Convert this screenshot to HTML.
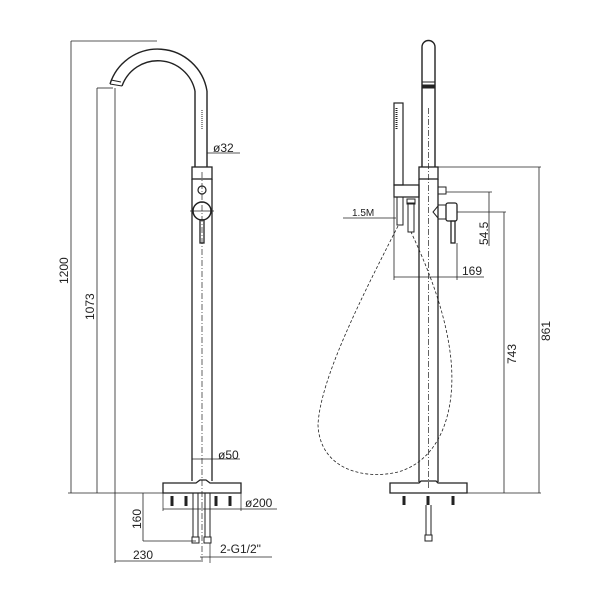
<!DOCTYPE html>
<html><head><meta charset="utf-8"><style>
html,body{margin:0;padding:0;background:#fff}
svg{display:block}
text{font-family:"Liberation Sans",sans-serif;font-size:12px;fill:#222}
</style></head><body>
<svg width="600" height="600" viewBox="0 0 600 600" xmlns="http://www.w3.org/2000/svg">
<g stroke="#222" stroke-width="1" fill="none">
<path d="M110,84 A50,50 0 0 1 207,91" stroke-width="1.4"/>
<path d="M122,86 A38,38 0 0 1 195,91" stroke-width="1.4"/>
<path d="M110,84 L122,86 M111,80 L121,82" />
<line x1="207" y1="91" x2="207" y2="167" stroke-width="1.4"/>
<line x1="195" y1="91" x2="195" y2="167" stroke-width="1.4"/>
<line x1="202" y1="110" x2="202" y2="130" stroke-dasharray="1,1"/>
<rect x="192" y="167" width="20" height="12" stroke-width="1.3"/>
<line x1="192" y1="179" x2="192" y2="481" stroke-width="1.3"/>
<line x1="212" y1="179" x2="212" y2="481" stroke-width="1.3"/>
<line x1="202" y1="172" x2="202" y2="560" stroke-dasharray="6,2,1,2" stroke-width="0.7"/>
<circle cx="202" cy="190" r="4" stroke-width="1.2"/>
<circle cx="202" cy="211" r="9" stroke-width="1.5"/>
<line x1="190" y1="211" x2="214" y2="211" stroke-width="0.7"/>
<rect x="200" y="220" width="4" height="23" stroke-width="1.3"/>
<path d="M163,483 L196,483 L200,480 L206,480 L210,483 L241,483 L241,493 L163,493 Z" stroke-width="1.3"/>
<g stroke-width="3">
<line x1="172" y1="496" x2="172" y2="506"/><line x1="186" y1="496" x2="186" y2="506"/>
<line x1="216" y1="496" x2="216" y2="506"/><line x1="230" y1="496" x2="230" y2="506"/>
</g>
<line x1="193" y1="493" x2="193" y2="537"/><line x1="198" y1="493" x2="198" y2="537"/>
<line x1="205" y1="493" x2="205" y2="537"/><line x1="210" y1="493" x2="210" y2="537"/>
<rect x="192" y="537" width="7" height="6"/><rect x="204" y="537" width="7" height="6"/>
<line x1="71" y1="41" x2="157" y2="41" stroke-width="0.8"/>
<line x1="71" y1="41" x2="71" y2="493" stroke-width="0.8"/>
<line x1="97" y1="88" x2="113" y2="88" stroke-width="0.8"/>
<line x1="97" y1="88" x2="97" y2="493" stroke-width="0.8"/>
<line x1="115" y1="88" x2="115" y2="563" stroke-width="0.8"/>
<line x1="68" y1="493" x2="163" y2="493" stroke-width="0.8"/>
<line x1="207" y1="153" x2="240" y2="153" stroke-width="0.8"/>
<line x1="192" y1="459" x2="240" y2="459" stroke-width="0.8"/>
<line x1="163" y1="493" x2="163" y2="511" stroke-width="0.7"/>
<line x1="241" y1="493" x2="241" y2="511" stroke-width="0.7"/>
<line x1="163" y1="509" x2="277" y2="509" stroke-width="0.8"/>
<line x1="143" y1="493" x2="143" y2="541" stroke-width="0.8"/>
<line x1="143" y1="541" x2="196" y2="541" stroke-width="0.8"/>
<line x1="115" y1="561" x2="203" y2="561" stroke-width="0.8"/>
<line x1="200" y1="557" x2="272" y2="557" stroke-width="0.8"/>
<line x1="210" y1="543" x2="210" y2="563" stroke-width="0.7"/>
<path d="M422,167 L422,47 A6.5,6.5 0 0 1 435,47 L435,167" stroke-width="1.4"/>
<line x1="422" y1="82" x2="435" y2="82"/>
<rect x="422" y="85" width="13" height="3" fill="#222"/>
<line x1="428.5" y1="108" x2="428.5" y2="490" stroke-dasharray="6,2,1,2" stroke-width="0.7"/>
<rect x="419" y="167" width="19" height="12" stroke-width="1.3"/>
<line x1="419" y1="179" x2="419" y2="482" stroke-width="1.3"/>
<line x1="438" y1="179" x2="438" y2="482" stroke-width="1.3"/>
<rect x="394" y="103" width="9" height="82" stroke-width="1.2"/>
<line x1="396.5" y1="108" x2="396.5" y2="130" stroke-width="2" stroke-dasharray="1,1"/>
<path d="M394,185 L419,185 L419,197 L394,197 Z" stroke-width="1.2"/>
<rect x="397" y="197" width="6" height="28"/>
<rect x="408" y="203" width="6" height="29"/>
<rect x="407" y="199" width="8" height="5"/>
<rect x="438" y="187" width="8" height="7"/>
<path d="M438,206 L433,212 L438,218" />
<rect x="438" y="205" width="8" height="14"/>
<rect x="446" y="203" width="11" height="18" rx="2" stroke-width="1.3"/>
<rect x="451" y="221" width="4" height="22" stroke-width="1.3"/>
<path d="M398,226 C360,300 320,380 318,425 C320,470 365,480 398,472 C440,460 456,412 451,360 C446,310 425,262 411,232" stroke-dasharray="3,2" stroke-width="0.8"/>
<path d="M390,483 L419,483 L421,481 L436,481 L438,483 L467,483 L467,493 L390,493 Z" stroke-width="1.3"/>
<g stroke-width="3">
<line x1="404" y1="496" x2="404" y2="505"/><line x1="428" y1="496" x2="428" y2="505"/><line x1="453" y1="496" x2="453" y2="505"/>
</g>
<line x1="426" y1="505" x2="426" y2="535"/><line x1="431" y1="505" x2="431" y2="535"/>
<rect x="425" y="535" width="7" height="6"/>
<line x1="438" y1="167" x2="541" y2="167" stroke-width="0.8"/>
<line x1="539" y1="167" x2="539" y2="493" stroke-width="0.8"/>
<line x1="467" y1="493" x2="541" y2="493" stroke-width="0.8"/>
<line x1="446" y1="192" x2="492" y2="192" stroke-width="0.8"/>
<line x1="489" y1="192" x2="489" y2="246" stroke-width="0.8"/>
<line x1="457" y1="212" x2="506" y2="212" stroke-width="0.8"/>
<line x1="504" y1="212" x2="504" y2="493" stroke-width="0.8"/>
<line x1="394" y1="197" x2="394" y2="280" stroke-width="0.8"/>
<line x1="457" y1="243" x2="457" y2="280" stroke-width="0.8"/>
<line x1="394" y1="277" x2="484" y2="277" stroke-width="0.8"/>
<line x1="343" y1="218" x2="396" y2="218" stroke-width="0.8"/>
</g>
<text x="213" y="152">ø32</text>
<text x="218" y="459">ø50</text>
<text x="245" y="507">ø200</text>
<text x="220" y="553">2-G1/2"</text>
<text x="133" y="559">230</text>
<text transform="translate(141,529) rotate(-90)">160</text>
<text transform="translate(68,284) rotate(-90)">1200</text>
<text transform="translate(94,320) rotate(-90)">1073</text>
<text x="352" y="216" style="font-size:10px">1.5M</text>
<text x="462" y="275">169</text>
<text transform="translate(488,245) rotate(-90)">54.5</text>
<text transform="translate(516,364) rotate(-90)">743</text>
<text transform="translate(550,341) rotate(-90)">861</text>
</svg>
</body></html>
